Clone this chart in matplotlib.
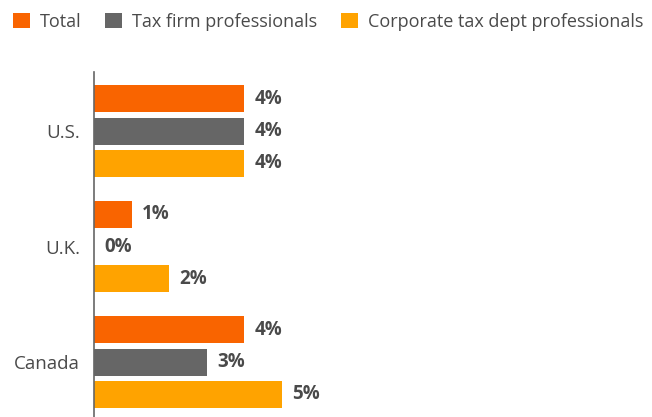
import matplotlib
matplotlib.use("Agg")
import matplotlib.pyplot as plt
from matplotlib.patches import Patch
import numpy as np

plt.rcParams['font.family'] = ['Open Sans', 'DejaVu Sans']

countries = ["U.S.", "U.K.", "Canada"]
series = ["Total", "Tax firm professionals", "Corporate tax dept professionals"]
total = [4, 1, 4]
tax_firm = [4, 0, 3]
corporate = [4, 2, 5]
colors = ["#F96400", "#666666", "#FFA300"]

values = [total, tax_firm, corporate]
text_color = "#4a4a4a"

fig = plt.figure(figsize=(6.52, 4.17), dpi=100)
ax = fig.add_axes([94 / 652, 0.0, 546 / 652, 1 - 72 / 417])

y = np.arange(len(countries))
pitch = 0.281
height = 0.234
offsets = [-pitch, 0, pitch]

for vals, off, col in zip(values, offsets, colors):
    bars = ax.barh(y + off, vals, height=height, color=col)
    for b, v in zip(bars, vals):
        ax.annotate(f"{v}%", (b.get_width(), b.get_y() + b.get_height() / 2),
                    xytext=(7.5, 0), textcoords="offset points",
                    ha="left", va="center", fontsize=13.5, fontweight="bold",
                    color=text_color)

ax.set_xlim(0, 546 / 37.5)
ax.set_ylim(2.476, -0.511)
ax.set_yticks(y)
ax.set_yticklabels(countries, fontsize=13.5, color=text_color)
ax.tick_params(axis="y", length=0, pad=10)
ax.set_xticks([])
for s in ["top", "right", "bottom"]:
    ax.spines[s].set_visible(False)
ax.spines["left"].set_color("#666666")
ax.spines["left"].set_linewidth(1.2)

handles = [Patch(facecolor=c, edgecolor="none") for c in colors]
leg = fig.legend(handles, series, loc="upper left", bbox_to_anchor=(0.0, 1.0),
                 ncol=3, frameon=False, fontsize=13, handlelength=0.95,
                 handleheight=0.95, handletextpad=0.55, columnspacing=1.3,
                 borderaxespad=0.3, labelcolor=text_color)

fig.savefig("out.png", dpi=100)
